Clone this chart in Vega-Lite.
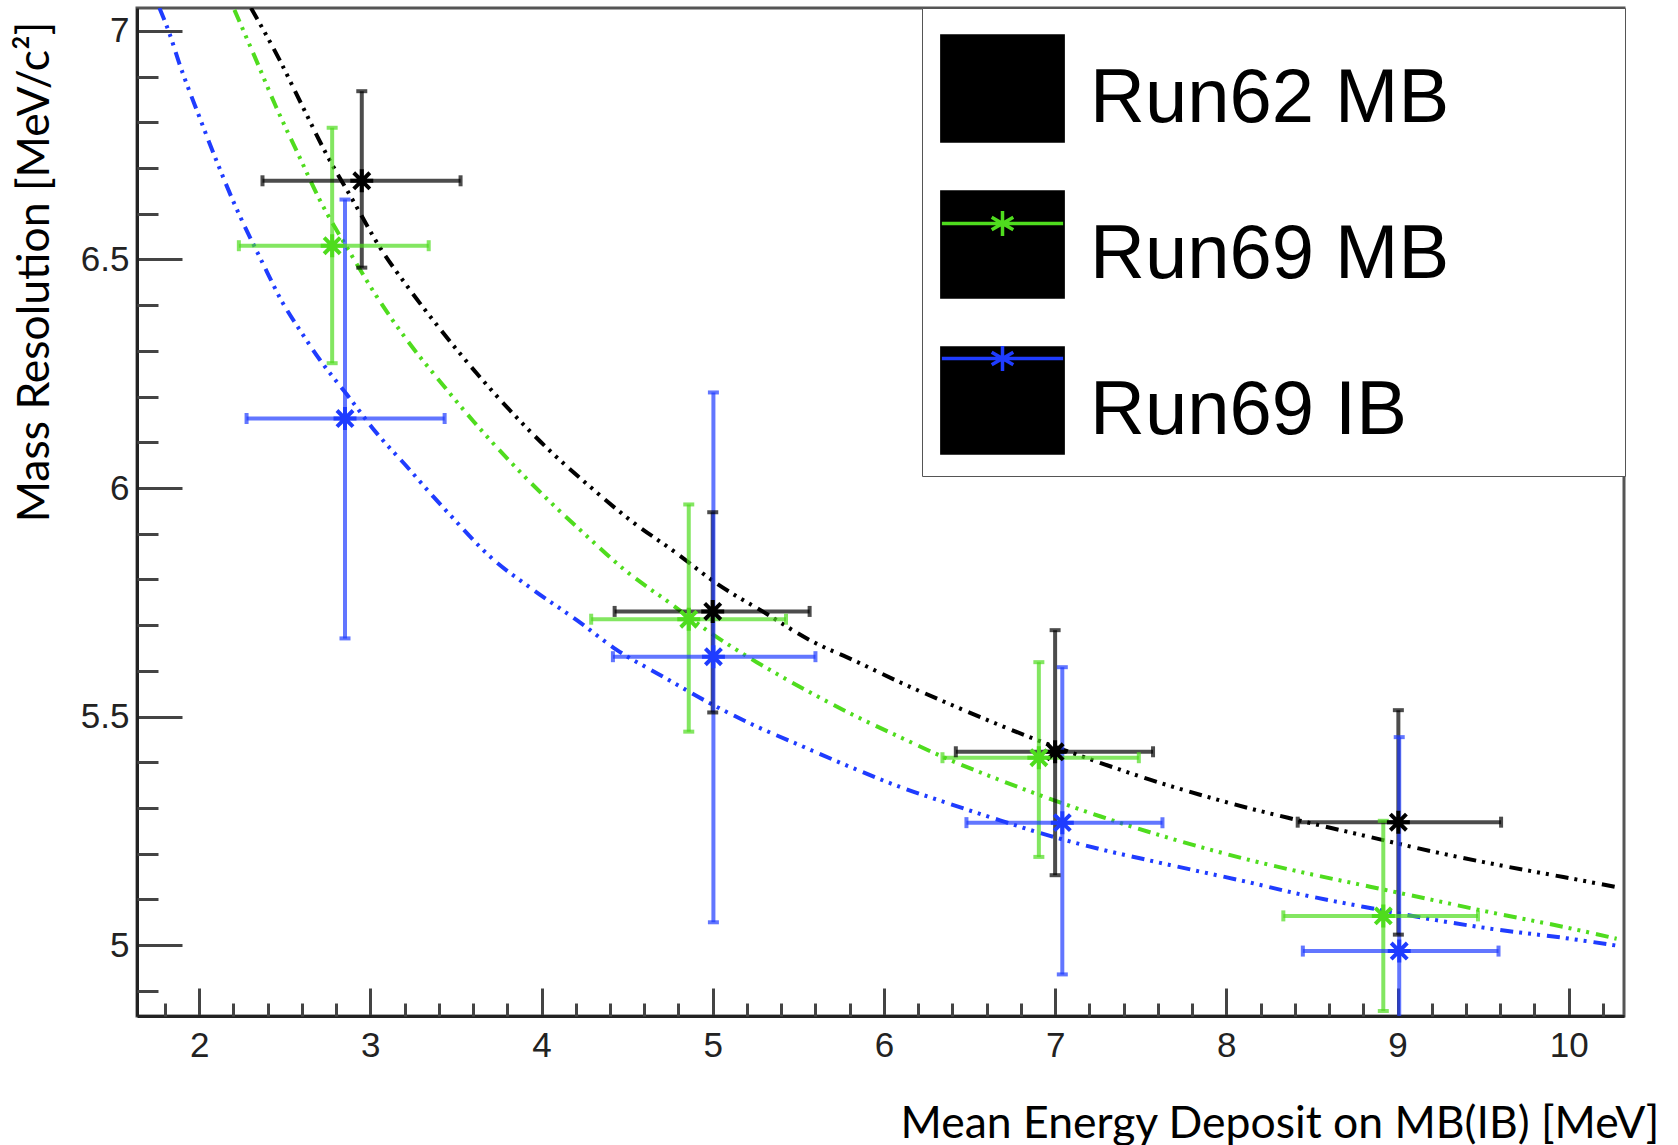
{
  "$schema": "https://vega.github.io/schema/vega-lite/v6.json",
  "width": 1487,
  "height": 1008,
  "autosize": "none",
  "padding": {"left": 137, "top": 8, "right": 54, "bottom": 129},
  "background": "white",
  "config": {
    "view": {"stroke": "#555555", "strokeWidth": 3, "fill": "white"},
    "font": "Liberation Sans",
    "axis": {"grid": false}
  },
  "resolve": {"axis": {"x": "independent", "y": "independent"}},
  "datasets": {
    "points": [
      {"series": "Run62 MB", "x": 2.95, "y": 6.672, "xlo": 2.37, "xhi": 3.527, "ylo": 6.482, "yhi": 6.868},
      {"series": "Run62 MB", "x": 5.0, "y": 5.730, "xlo": 4.427, "xhi": 5.566, "ylo": 5.509, "yhi": 5.947},
      {"series": "Run62 MB", "x": 7.0, "y": 5.423, "xlo": 6.42, "xhi": 7.572, "ylo": 5.153, "yhi": 5.689},
      {"series": "Run62 MB", "x": 9.005, "y": 5.269, "xlo": 8.417, "xhi": 9.605, "ylo": 5.023, "yhi": 5.514},
      {"series": "Run69 MB", "x": 2.777, "y": 6.530, "xlo": 2.232, "xhi": 3.341, "ylo": 6.273, "yhi": 6.788},
      {"series": "Run69 MB", "x": 4.86, "y": 5.713, "xlo": 4.29, "xhi": 5.428, "ylo": 5.467, "yhi": 5.964},
      {"series": "Run69 MB", "x": 6.905, "y": 5.41, "xlo": 6.342, "xhi": 7.489, "ylo": 5.193, "yhi": 5.619},
      {"series": "Run69 MB", "x": 8.917, "y": 5.064, "xlo": 8.333, "xhi": 9.47, "ylo": 4.856, "yhi": 5.272},
      {"series": "Run69 IB", "x": 2.852, "y": 6.152, "xlo": 2.277, "xhi": 3.434, "ylo": 5.671, "yhi": 6.631},
      {"series": "Run69 IB", "x": 5.004, "y": 5.631, "xlo": 4.417, "xhi": 5.6, "ylo": 5.05, "yhi": 6.209},
      {"series": "Run69 IB", "x": 7.042, "y": 5.268, "xlo": 6.482, "xhi": 7.627, "ylo": 4.936, "yhi": 5.608},
      {"series": "Run69 IB", "x": 9.01, "y": 4.987, "xlo": 8.447, "xhi": 9.59, "ylo": 4.52, "yhi": 5.455}
    ],
    "curves": [
      {"series": "Run62 MB", "x": 2.303, "y": 7.05},
      {"series": "Run62 MB", "x": 2.469, "y": 6.937},
      {"series": "Run62 MB", "x": 2.605, "y": 6.834},
      {"series": "Run62 MB", "x": 2.741, "y": 6.732},
      {"series": "Run62 MB", "x": 2.897, "y": 6.63},
      {"series": "Run62 MB", "x": 3.053, "y": 6.528},
      {"series": "Run62 MB", "x": 3.232, "y": 6.433},
      {"series": "Run62 MB", "x": 3.426, "y": 6.339},
      {"series": "Run62 MB", "x": 3.621, "y": 6.251},
      {"series": "Run62 MB", "x": 3.835, "y": 6.162},
      {"series": "Run62 MB", "x": 4.05, "y": 6.081},
      {"series": "Run62 MB", "x": 4.283, "y": 6.003},
      {"series": "Run62 MB", "x": 4.517, "y": 5.93},
      {"series": "Run62 MB", "x": 4.79, "y": 5.857},
      {"series": "Run62 MB", "x": 5.023, "y": 5.791},
      {"series": "Run62 MB", "x": 5.296, "y": 5.729},
      {"series": "Run62 MB", "x": 5.568, "y": 5.667},
      {"series": "Run62 MB", "x": 5.841, "y": 5.62},
      {"series": "Run62 MB", "x": 6.094, "y": 5.575},
      {"series": "Run62 MB", "x": 6.386, "y": 5.527},
      {"series": "Run62 MB", "x": 6.678, "y": 5.481},
      {"series": "Run62 MB", "x": 6.97, "y": 5.438},
      {"series": "Run62 MB", "x": 7.262, "y": 5.399},
      {"series": "Run62 MB", "x": 7.554, "y": 5.362},
      {"series": "Run62 MB", "x": 7.846, "y": 5.329},
      {"series": "Run62 MB", "x": 8.138, "y": 5.299},
      {"series": "Run62 MB", "x": 8.411, "y": 5.274},
      {"series": "Run62 MB", "x": 8.8, "y": 5.24},
      {"series": "Run62 MB", "x": 9.19, "y": 5.206},
      {"series": "Run62 MB", "x": 9.58, "y": 5.176},
      {"series": "Run62 MB", "x": 9.969, "y": 5.149},
      {"series": "Run62 MB", "x": 10.28, "y": 5.127},
      {"series": "Run69 MB", "x": 2.206, "y": 7.046},
      {"series": "Run69 MB", "x": 2.332, "y": 6.937},
      {"series": "Run69 MB", "x": 2.449, "y": 6.834},
      {"series": "Run69 MB", "x": 2.585, "y": 6.725},
      {"series": "Run69 MB", "x": 2.702, "y": 6.632},
      {"series": "Run69 MB", "x": 2.881, "y": 6.515},
      {"series": "Run69 MB", "x": 3.037, "y": 6.419},
      {"series": "Run69 MB", "x": 3.213, "y": 6.324},
      {"series": "Run69 MB", "x": 3.407, "y": 6.233},
      {"series": "Run69 MB", "x": 3.602, "y": 6.146},
      {"series": "Run69 MB", "x": 3.816, "y": 6.058},
      {"series": "Run69 MB", "x": 4.03, "y": 5.977},
      {"series": "Run69 MB", "x": 4.264, "y": 5.895},
      {"series": "Run69 MB", "x": 4.478, "y": 5.823},
      {"series": "Run69 MB", "x": 4.751, "y": 5.748},
      {"series": "Run69 MB", "x": 4.984, "y": 5.684},
      {"series": "Run69 MB", "x": 5.257, "y": 5.619},
      {"series": "Run69 MB", "x": 5.529, "y": 5.561},
      {"series": "Run69 MB", "x": 5.802, "y": 5.507},
      {"series": "Run69 MB", "x": 6.094, "y": 5.455},
      {"series": "Run69 MB", "x": 6.386, "y": 5.405},
      {"series": "Run69 MB", "x": 6.678, "y": 5.361},
      {"series": "Run69 MB", "x": 6.97, "y": 5.32},
      {"series": "Run69 MB", "x": 7.262, "y": 5.282},
      {"series": "Run69 MB", "x": 7.554, "y": 5.247},
      {"series": "Run69 MB", "x": 7.846, "y": 5.215},
      {"series": "Run69 MB", "x": 8.138, "y": 5.186},
      {"series": "Run69 MB", "x": 8.411, "y": 5.162},
      {"series": "Run69 MB", "x": 8.8, "y": 5.131},
      {"series": "Run69 MB", "x": 9.19, "y": 5.1},
      {"series": "Run69 MB", "x": 9.58, "y": 5.069},
      {"series": "Run69 MB", "x": 9.969, "y": 5.04},
      {"series": "Run69 MB", "x": 10.28, "y": 5.014},
      {"series": "Run69 IB", "x": 1.768, "y": 7.05},
      {"series": "Run69 IB", "x": 1.826, "y": 6.995},
      {"series": "Run69 IB", "x": 1.884, "y": 6.929},
      {"series": "Run69 IB", "x": 2.001, "y": 6.812},
      {"series": "Run69 IB", "x": 2.099, "y": 6.718},
      {"series": "Run69 IB", "x": 2.196, "y": 6.63},
      {"series": "Run69 IB", "x": 2.371, "y": 6.492},
      {"series": "Run69 IB", "x": 2.488, "y": 6.405},
      {"series": "Run69 IB", "x": 2.589, "y": 6.345},
      {"series": "Run69 IB", "x": 2.706, "y": 6.28},
      {"series": "Run69 IB", "x": 2.862, "y": 6.205},
      {"series": "Run69 IB", "x": 3.037, "y": 6.12},
      {"series": "Run69 IB", "x": 3.213, "y": 6.047},
      {"series": "Run69 IB", "x": 3.368, "y": 5.981},
      {"series": "Run69 IB", "x": 3.466, "y": 5.941},
      {"series": "Run69 IB", "x": 3.699, "y": 5.85},
      {"series": "Run69 IB", "x": 3.952, "y": 5.777},
      {"series": "Run69 IB", "x": 4.206, "y": 5.711},
      {"series": "Run69 IB", "x": 4.439, "y": 5.646},
      {"series": "Run69 IB", "x": 4.711, "y": 5.587},
      {"series": "Run69 IB", "x": 4.984, "y": 5.529},
      {"series": "Run69 IB", "x": 5.218, "y": 5.485},
      {"series": "Run69 IB", "x": 5.529, "y": 5.434},
      {"series": "Run69 IB", "x": 5.802, "y": 5.39},
      {"series": "Run69 IB", "x": 6.094, "y": 5.346},
      {"series": "Run69 IB", "x": 6.386, "y": 5.309},
      {"series": "Run69 IB", "x": 6.678, "y": 5.273},
      {"series": "Run69 IB", "x": 6.97, "y": 5.239},
      {"series": "Run69 IB", "x": 7.262, "y": 5.21},
      {"series": "Run69 IB", "x": 7.554, "y": 5.185},
      {"series": "Run69 IB", "x": 7.846, "y": 5.161},
      {"series": "Run69 IB", "x": 8.138, "y": 5.137},
      {"series": "Run69 IB", "x": 8.411, "y": 5.113},
      {"series": "Run69 IB", "x": 8.8, "y": 5.084},
      {"series": "Run69 IB", "x": 9.19, "y": 5.057},
      {"series": "Run69 IB", "x": 9.58, "y": 5.034},
      {"series": "Run69 IB", "x": 9.969, "y": 5.016},
      {"series": "Run69 IB", "x": 10.28, "y": 4.999}
    ]
  },
  "layer": [
    {
      "data": {"name": "points"},
      "mark": {"type": "point", "filled": true, "opacity": 0, "shape": "square", "strokeWidth": 3.5},
      "encoding": {
        "x": {
          "field": "x", "type": "quantitative",
          "scale": {"domain": [1.637, 10.323], "nice": false, "zero": false},
          "axis": {
            "orient": "bottom",
            "title": "Mean Energy Deposit on MB(IB) [MeV]",
            "grid": false,
            "values": [2, 3, 4, 5, 6, 7, 8, 9, 10],
            "tickCount": 100,
            "format": "~g",
            "tickSize": -28,
            "tickWidth": 3,
            "tickColor": "#444444",
            "domainColor": "#222222",
            "domainWidth": 3,
            "labelFont": "Liberation Sans",
            "labelFontSize": 35,
            "labelColor": "#222222",
            "labelPadding": 40,
            "labelBaseline": "top",
            "labelFlush": false,
            "labelOverlap": false,
            "labelBound": false,
            "titleFont": "Lato",
            "titleFontSize": 44.5,
            "titleFontWeight": "normal",
            "titleColor": "black",
            "titleAnchor": "end",
            "titleAlign": "right",
            "titleBaseline": "alphabetic",
            "titleX": 1522,
            "titleY": 121
          }
        },
        "y": {
          "field": "y", "type": "quantitative",
          "scale": {"domain": [4.845, 7.05], "nice": false, "zero": false},
          "axis": {
            "orient": "left",
            "title": "Mass Resolution [MeV/c²]",
            "grid": false,
            "values": [5, 5.5, 6, 6.5, 7],
            "tickCount": 100,
            "format": "~g",
            "tickSize": -45,
            "tickWidth": 3,
            "tickColor": "#444444",
            "domainColor": "#222222",
            "domainWidth": 3,
            "labelFont": "Liberation Sans",
            "labelFontSize": 35,
            "labelColor": "#222222",
            "labelPadding": 53,
            "labelFlush": false,
            "labelOverlap": false,
            "labelBound": false,
            "titleFont": "Lato",
            "titleFontSize": 44.5,
            "titleFontWeight": "normal",
            "titleColor": "black",
            "titleAngle": 270,
            "titleAnchor": "end",
            "titleAlign": "right",
            "titleBaseline": "alphabetic",
            "titleX": -89,
            "titleY": 13
          }
        },
        "fill": {
          "field": "series", "type": "nominal",
          "sort": ["Run62 MB", "Run69 MB", "Run69 IB"],
          "scale": {"range": ["black", "black", "black"]},
          "legend": {
            "orient": "none", "legendX": 785, "legendY": 0,
            "title": "W",
            "titleOrient": "right",
            "titleFontSize": 100,
            "titleOpacity": 0,
            "titlePadding": 65,
            "padding": 16,
            "rowPadding": 32,
            "symbolType": "M-0.97,-0.84H0.97V0.84H-0.97Z",
            "symbolSize": 15625,
            "symbolOpacity": 1,
            "symbolStrokeWidth": 3.5,
            "symbolStrokeColor": "black",
            "labelFont": "Liberation Sans",
            "labelFontSize": 76,
            "labelColor": "black",
            "labelOffset": 23,
            "labelLimit": 2000,
            "strokeColor": "#555555",
            "fillColor": "white",
            "encoding": {"labels": {"dy": {"value": 10}}}
          }
        }
      }
    },
    {
      "data": {"name": "curves"},
      "mark": {"type": "line", "strokeWidth": 4, "strokeDash": [13, 6, 3, 6, 3, 6, 3, 7], "clip": true, "interpolate": "monotone"},
      "encoding": {
        "x": {
          "field": "x", "type": "quantitative",
          "scale": {"domain": [1.637, 10.323], "nice": false, "zero": false},
          "axis": {
            "orient": "bottom", "title": null, "labels": false, "domain": false, "grid": false,
            "values": [1.8, 2.2, 2.4, 2.6, 2.8, 3.2, 3.4, 3.6, 3.8, 4.2, 4.4, 4.6, 4.8, 5.2, 5.4, 5.6, 5.8, 6.2, 6.4, 6.6, 6.8, 7.2, 7.4, 7.6, 7.8, 8.2, 8.4, 8.6, 8.8, 9.2, 9.4, 9.6, 9.8, 10.2],
            "tickCount": 100,
            "tickSize": -13, "tickWidth": 3, "tickColor": "#444444"
          }
        },
        "y": {
          "field": "y", "type": "quantitative",
          "scale": {"domain": [4.845, 7.05], "nice": false, "zero": false},
          "axis": {
            "orient": "left", "title": null, "labels": false, "domain": false, "grid": false,
            "values": [4.9, 5.1, 5.2, 5.3, 5.4, 5.6, 5.7, 5.8, 5.9, 6.1, 6.2, 6.3, 6.4, 6.6, 6.7, 6.8, 6.9],
            "tickCount": 100,
            "tickSize": -21, "tickWidth": 3, "tickColor": "#444444"
          }
        },
        "color": {
          "field": "series", "type": "nominal",
          "scale": {"domain": ["Run62 MB", "Run69 MB", "Run69 IB"], "range": ["#000000", "#4fdc1e", "#1f3cff"]},
          "legend": {
            "orient": "none", "legendX": 785, "legendY": 0,
            "title": null,
            "padding": 16,
            "rowPadding": 32,
            "symbolType": "M-0.97,0H0.97M0,-0.2V0.2M-0.173,-0.1L0.173,0.1M-0.173,0.1L0.173,-0.1",
            "symbolSize": 15625,
            "symbolStrokeWidth": 3.5,
            "symbolDash": [1, 0],
            "symbolFillColor": "transparent",
            "symbolOpacity": 1,
            "labelFont": "Liberation Sans",
            "labelFontSize": 76,
            "labelOffset": 23,
            "labelLimit": 2000,
            "labelExpr": "''"
          }
        }
      }
    },
    {
      "data": {"name": "points"},
      "mark": {"type": "rule", "strokeWidth": 4, "opacity": 0.7, "clip": true},
      "encoding": {
        "x": {"field": "x", "type": "quantitative", "scale": {"domain": [1.637, 10.323], "nice": false, "zero": false}, "axis": null},
        "y": {"field": "ylo", "type": "quantitative", "scale": {"domain": [4.845, 7.05], "nice": false, "zero": false}, "axis": null},
        "y2": {"field": "yhi"},
        "color": {"field": "series", "type": "nominal", "scale": {"domain": ["Run62 MB", "Run69 MB", "Run69 IB"], "range": ["#000000", "#4fdc1e", "#1f3cff"]}, "legend": null}
      }
    },
    {
      "data": {"name": "points"},
      "mark": {"type": "rule", "strokeWidth": 4, "opacity": 0.7, "clip": true},
      "encoding": {
        "x": {"field": "xlo", "type": "quantitative", "scale": {"domain": [1.637, 10.323], "nice": false, "zero": false}, "axis": null},
        "x2": {"field": "xhi"},
        "y": {"field": "y", "type": "quantitative", "scale": {"domain": [4.845, 7.05], "nice": false, "zero": false}, "axis": null},
        "color": {"field": "series", "type": "nominal", "scale": {"domain": ["Run62 MB", "Run69 MB", "Run69 IB"], "range": ["#000000", "#4fdc1e", "#1f3cff"]}, "legend": null}
      }
    },
    {
      "data": {"name": "points"},
      "mark": {"type": "tick", "orient": "horizontal", "size": 11, "thickness": 4, "opacity": 0.7, "clip": true},
      "encoding": {
        "x": {"field": "x", "type": "quantitative", "scale": {"domain": [1.637, 10.323], "nice": false, "zero": false}, "axis": null},
        "y": {"field": "ylo", "type": "quantitative", "scale": {"domain": [4.845, 7.05], "nice": false, "zero": false}, "axis": null},
        "color": {"field": "series", "type": "nominal", "scale": {"domain": ["Run62 MB", "Run69 MB", "Run69 IB"], "range": ["#000000", "#4fdc1e", "#1f3cff"]}, "legend": null}
      }
    },
    {
      "data": {"name": "points"},
      "mark": {"type": "tick", "orient": "horizontal", "size": 11, "thickness": 4, "opacity": 0.7, "clip": true},
      "encoding": {
        "x": {"field": "x", "type": "quantitative", "scale": {"domain": [1.637, 10.323], "nice": false, "zero": false}, "axis": null},
        "y": {"field": "yhi", "type": "quantitative", "scale": {"domain": [4.845, 7.05], "nice": false, "zero": false}, "axis": null},
        "color": {"field": "series", "type": "nominal", "scale": {"domain": ["Run62 MB", "Run69 MB", "Run69 IB"], "range": ["#000000", "#4fdc1e", "#1f3cff"]}, "legend": null}
      }
    },
    {
      "data": {"name": "points"},
      "mark": {"type": "tick", "orient": "vertical", "size": 11, "thickness": 4, "opacity": 0.7, "clip": true},
      "encoding": {
        "x": {"field": "xlo", "type": "quantitative", "scale": {"domain": [1.637, 10.323], "nice": false, "zero": false}, "axis": null},
        "y": {"field": "y", "type": "quantitative", "scale": {"domain": [4.845, 7.05], "nice": false, "zero": false}, "axis": null},
        "color": {"field": "series", "type": "nominal", "scale": {"domain": ["Run62 MB", "Run69 MB", "Run69 IB"], "range": ["#000000", "#4fdc1e", "#1f3cff"]}, "legend": null}
      }
    },
    {
      "data": {"name": "points"},
      "mark": {"type": "tick", "orient": "vertical", "size": 11, "thickness": 4, "opacity": 0.7, "clip": true},
      "encoding": {
        "x": {"field": "xhi", "type": "quantitative", "scale": {"domain": [1.637, 10.323], "nice": false, "zero": false}, "axis": null},
        "y": {"field": "y", "type": "quantitative", "scale": {"domain": [4.845, 7.05], "nice": false, "zero": false}, "axis": null},
        "color": {"field": "series", "type": "nominal", "scale": {"domain": ["Run62 MB", "Run69 MB", "Run69 IB"], "range": ["#000000", "#4fdc1e", "#1f3cff"]}, "legend": null}
      }
    },
    {
      "data": {"name": "points"},
      "mark": {"type": "point", "shape": "M-1,0H1M0,-1V1M-0.7,-0.7L0.7,0.7M-0.7,0.7L0.7,-0.7", "filled": false, "strokeWidth": 4, "size": 529, "opacity": 1, "clip": true},
      "encoding": {
        "x": {"field": "x", "type": "quantitative", "scale": {"domain": [1.637, 10.323], "nice": false, "zero": false}, "axis": null},
        "y": {"field": "y", "type": "quantitative", "scale": {"domain": [4.845, 7.05], "nice": false, "zero": false}, "axis": null},
        "color": {"field": "series", "type": "nominal", "scale": {"domain": ["Run62 MB", "Run69 MB", "Run69 IB"], "range": ["#000000", "#4fdc1e", "#1f3cff"]}, "legend": null}
      }
    }
  ]
}
